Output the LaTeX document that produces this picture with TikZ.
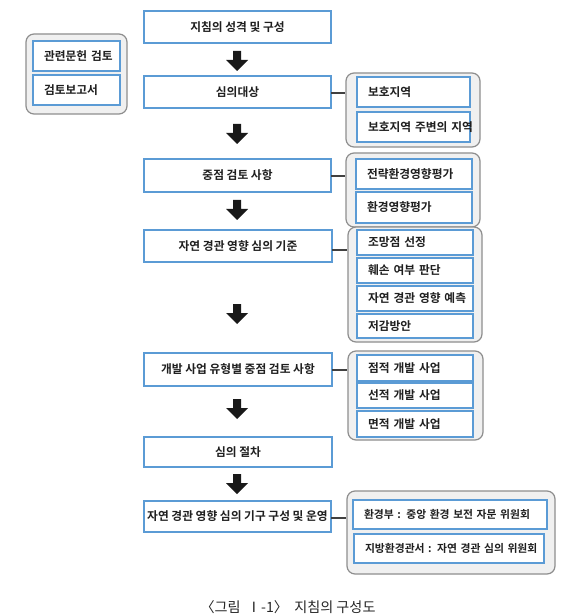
\documentclass[tikz,border=0pt]{standalone}
\usepackage{fontspec}
\setmainfont{Noto Sans CJK KR}
\newfontfamily\kbold[BoldFont=*]{Noto Sans CJK KR Bold}
\begin{document}
\begin{tikzpicture}[x=0.75pt,y=-0.75pt,
  every node/.style={font=\kbold\fontsize{8.8pt}{10pt}\selectfont, text=black!88},
  mainbox/.style={draw=boxblue, line width=1.6pt, fill=white, inner sep=0pt},
  subbox/.style={draw=boxblue, line width=1.6pt, fill=white, inner xsep=8pt, inner ysep=0pt, align=left},
  smalltext/.style={font=\kbold\fontsize{8.1pt}{10pt}\selectfont},
  grp/.style={draw=grpgray, line width=0.9pt, fill=grpfill, rounded corners=6pt, inner sep=0pt},
  conn/.style={draw=black!75, line width=1.4pt},
  bigarrow/.style={fill=black!90, draw=none}]
\definecolor{boxblue}{HTML}{5B9BD5}
\definecolor{grpgray}{HTML}{8E8E8E}
\definecolor{grpfill}{HTML}{F0F0F0}
\newcommand\mbx[6]{\node[mainbox, minimum width={(#4-#2)*0.75pt}, minimum height={(#5-#3)*0.75pt}] (#1) at ({(#2+#4)/2},{(#3+#5)/2}) {#6};}
\newcommand\sbx[7][]{\node[subbox, #1, text width={(#5-#3-22)*0.75pt}, minimum height={(#6-#4)*0.75pt}] (#2) at ({(#3+#5)/2},{(#4+#6)/2}) {\mbox{#7}};}
\newcommand\gbx[5]{\node[grp, minimum width={(#4-#2)*0.75pt}, minimum height={(#5-#3)*0.75pt}] (#1) at ({(#2+#4)/2},{(#3+#5)/2}) {};}
\newcommand\darrow[2]{\fill[bigarrow] (#1-4,#2-10) -- (#1+4,#2-10) -- (#1+4,#2-1) -- (#1+11,#2-1) -- (#1,#2+10) -- (#1-11,#2-1) -- (#1-4,#2-1) -- cycle;}
\useasboundingbox[fill=white] (0,0) rectangle (575,616);

% main column
\mbx{m1}{144}{11}{331}{43}{지침의 성격 및 구성}
\mbx{m2}{144}{76}{331}{108}{심의대상}
\mbx{m3}{144}{159}{331}{192}{중점 검토 사항}
\mbx{m4}{144}{230}{332}{262}{자연 경관 영향 심의 기준}
\mbx{m5}{144}{353}{332}{386}{개발 사업 유형별 중점 검토 사항}
\mbx{m6}{144}{437}{332}{467}{심의 절차}
\mbx{m7}{144}{501}{331}{532}{자연 경관 영향 심의 기구 구성 및 운영}

% arrows
\darrow{237}{61}
\darrow{237}{134}
\darrow{237}{210}
\darrow{237}{314}
\darrow{237}{409}
\darrow{237}{484}

% left group
\gbx{g0}{26}{34}{127}{114}
\sbx{a1}{33}{41}{120}{71}{관련문헌 검토}
\sbx{a2}{33}{75}{120}{105}{검토보고서}

% group 1
\gbx{g1}{346}{73}{480}{147}
\sbx{b1}{357}{77}{470}{107}{보호지역}
\sbx{b2}{357}{112}{470}{142}{보호지역 주변의 지역}

% group 2
\gbx{g2}{346}{153}{480}{227}
\sbx{c1}{356}{159}{472}{189}{전략환경영향평가}
\sbx{c2}{356}{192}{472}{223}{환경영향평가}

% group 3
\gbx{g3}{348}{227}{482}{342}
\sbx{d1}{357}{230}{473}{255}{조망점 선정}
\sbx{d2}{357}{258}{473}{283}{훼손 여부 판단}
\sbx{d3}{357}{286}{473}{311}{자연 경관 영향 예측}
\sbx{d4}{357}{314}{473}{338}{저감방안}

% group 4
\gbx{g4}{348}{351}{483}{440}
\sbx{e1}{357}{355}{473}{381}{점적 개발 사업}
\sbx{e2}{357}{383}{473}{408}{선적 개발 사업}
\sbx{e3}{357}{411}{473}{437}{면적 개발 사업}

% group 5
\gbx{g5}{347}{491}{555}{574}
\sbx[smalltext]{f1}{353}{500}{547}{529}{환경부 : 중앙 환경 보전 자문 위원회}
\sbx[smalltext]{f2}{354}{534}{544}{563}{지방환경관서 : 자연 경관 심의 위원회}

% connectors
\coordinate (k2) at (331,93);
\coordinate (k3) at (331,176);
\coordinate (k4) at (332,250);
\coordinate (k5) at (332,370);
\coordinate (k7) at (331,518);
\draw[conn] (k2) -- (k2 -| g1.west);
\draw[conn] (k3) -- (k3 -| g2.west);
\draw[conn] (k4) -- (k4 -| g3.west);
\draw[conn] (k5) -- (k5 -| g4.west);
\draw[conn] (k7) -- (k7 -| g5.west);

% caption
\node[font=\fontsize{10.6pt}{12pt}\selectfont, text=black!85] (cap) at (288,607) {〈그림\ \ Ⅰ-1〉\ \ 지침의 구성도};
\end{tikzpicture}
\end{document}
